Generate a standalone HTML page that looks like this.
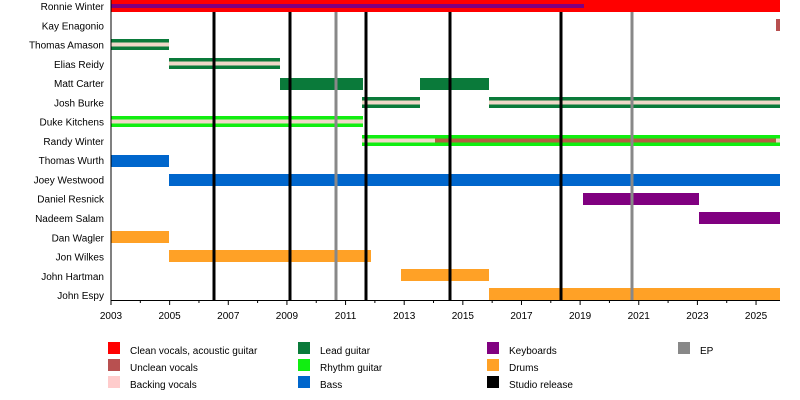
<!DOCTYPE html>
<html><head><style>body{margin:0;background:#fff}svg{display:block;font-family:"Liberation Sans",sans-serif}</style></head><body>
<svg width="800" height="400" xmlns="http://www.w3.org/2000/svg">
<g font-size="10" text-anchor="end" fill="#000">
<text x="104" y="10">Ronnie Winter</text>
<text x="104" y="29.3">Kay Enagonio</text>
<text x="104" y="48.5">Thomas Amason</text>
<text x="104" y="67.8">Elias Reidy</text>
<text x="104" y="87.1">Matt Carter</text>
<text x="104" y="106.4">Josh Burke</text>
<text x="104" y="125.6">Duke Kitchens</text>
<text x="104" y="144.9">Randy Winter</text>
<text x="104" y="164.2">Thomas Wurth</text>
<text x="104" y="183.4">Joey Westwood</text>
<text x="104" y="202.7">Daniel Resnick</text>
<text x="104" y="222">Nadeem Salam</text>
<text x="104" y="241.3">Dan Wagler</text>
<text x="104" y="260.5">Jon Wilkes</text>
<text x="104" y="279.8">John Hartman</text>
<text x="104" y="299">John Espy</text>
</g>
<rect x="111" y="0" width="669" height="12" fill="#ff0000"/>
<rect x="111" y="4" width="473" height="4" fill="#800080"/>
<rect x="776" y="19" width="4" height="12" fill="#b85050"/>
<rect x="111" y="39" width="58" height="11" fill="#0a7a3a"/>
<rect x="111" y="42.5" width="58" height="4" fill="#f0d8c8"/>
<rect x="169" y="58" width="111" height="11" fill="#0a7a3a"/>
<rect x="169" y="61.5" width="111" height="4" fill="#f0d8c8"/>
<rect x="280" y="78" width="83" height="12" fill="#0a7a3a"/>
<rect x="420" y="78" width="69" height="12" fill="#0a7a3a"/>
<rect x="362" y="97" width="58" height="11" fill="#0a7a3a"/>
<rect x="362" y="100.5" width="58" height="4" fill="#f0d8c8"/>
<rect x="489" y="97" width="291" height="11" fill="#0a7a3a"/>
<rect x="489" y="100.5" width="291" height="4" fill="#f0d8c8"/>
<rect x="111" y="116" width="252" height="11" fill="#11ee11"/>
<rect x="111" y="119.5" width="252" height="4" fill="#f0d8c8"/>
<rect x="362" y="135" width="418" height="11" fill="#11ee11"/>
<rect x="362" y="138.5" width="73" height="4" fill="#f0d8c8"/>
<rect x="435" y="138.5" width="341" height="4" fill="#b06040"/>
<rect x="776" y="138.5" width="4" height="4" fill="#f0d8c8"/>
<rect x="111" y="155" width="58" height="12" fill="#0066cc"/>
<rect x="169" y="174" width="611" height="12" fill="#0066cc"/>
<rect x="583" y="193" width="116" height="12" fill="#800080"/>
<rect x="699" y="212" width="81" height="12" fill="#800080"/>
<rect x="111" y="231" width="58" height="12" fill="#ffa126"/>
<rect x="169" y="250" width="202" height="12" fill="#ffa126"/>
<rect x="401" y="269" width="88" height="12" fill="#ffa126"/>
<rect x="489" y="288" width="291" height="12" fill="#ffa126"/>
<g stroke-width="3">
<line x1="214" y1="12" x2="214" y2="300" stroke="#000"/>
<line x1="290" y1="12" x2="290" y2="300" stroke="#000"/>
<line x1="366" y1="12" x2="366" y2="300" stroke="#000"/>
<line x1="450" y1="12" x2="450" y2="300" stroke="#000"/>
<line x1="561" y1="12" x2="561" y2="300" stroke="#000"/>
<line x1="336" y1="12" x2="336" y2="300" stroke="#888"/>
<line x1="632" y1="12" x2="632" y2="300" stroke="#888"/>
</g>
<line x1="111" y1="0" x2="111" y2="300" stroke="#000" stroke-width="1"/>
<line x1="111" y1="300.5" x2="780" y2="300.5" stroke="#000" stroke-width="1"/>
<g stroke="#000" stroke-width="1" id="ticks"></g>
<g font-size="10" text-anchor="middle" id="labels"></g>
<g font-size="10">
<rect x="108" y="342" width="12" height="12" fill="#ff0000"/><text x="130" y="354">Clean vocals, acoustic guitar</text>
<rect x="108" y="359" width="12" height="12" fill="#b85050"/><text x="130" y="371">Unclean vocals</text>
<rect x="108" y="376" width="12" height="12" fill="#ffcccc"/><text x="130" y="388">Backing vocals</text>
<rect x="298" y="342" width="12" height="12" fill="#0a7a3a"/><text x="320" y="354">Lead guitar</text>
<rect x="298" y="359" width="12" height="12" fill="#11ee11"/><text x="320" y="371">Rhythm guitar</text>
<rect x="298" y="376" width="12" height="12" fill="#0066cc"/><text x="320" y="388">Bass</text>
<rect x="487" y="342" width="12" height="12" fill="#800080"/><text x="509" y="354">Keyboards</text>
<rect x="487" y="359" width="12" height="12" fill="#ffa126"/><text x="509" y="371">Drums</text>
<rect x="487" y="376" width="12" height="12" fill="#000"/><text x="509" y="388">Studio release</text>
<rect x="678" y="342" width="12" height="12" fill="#888"/><text x="700" y="354">EP</text>
</g>
<script>
var t=document.getElementById('ticks'),l=document.getElementById('labels'),ns='http://www.w3.org/2000/svg';
for(var y=2003;y<=2025;y++){var x=111+(y-2003)*29.32;var ln=document.createElementNS(ns,'line');ln.setAttribute('x1',x);ln.setAttribute('x2',x);ln.setAttribute('y1',300);ln.setAttribute('y2',(y%2)?305:303);t.appendChild(ln);
if(y%2){var tx=document.createElementNS(ns,'text');tx.setAttribute('x',x);tx.setAttribute('y',319);tx.textContent=y;l.appendChild(tx);}}
</script>
</svg>
</body></html>
